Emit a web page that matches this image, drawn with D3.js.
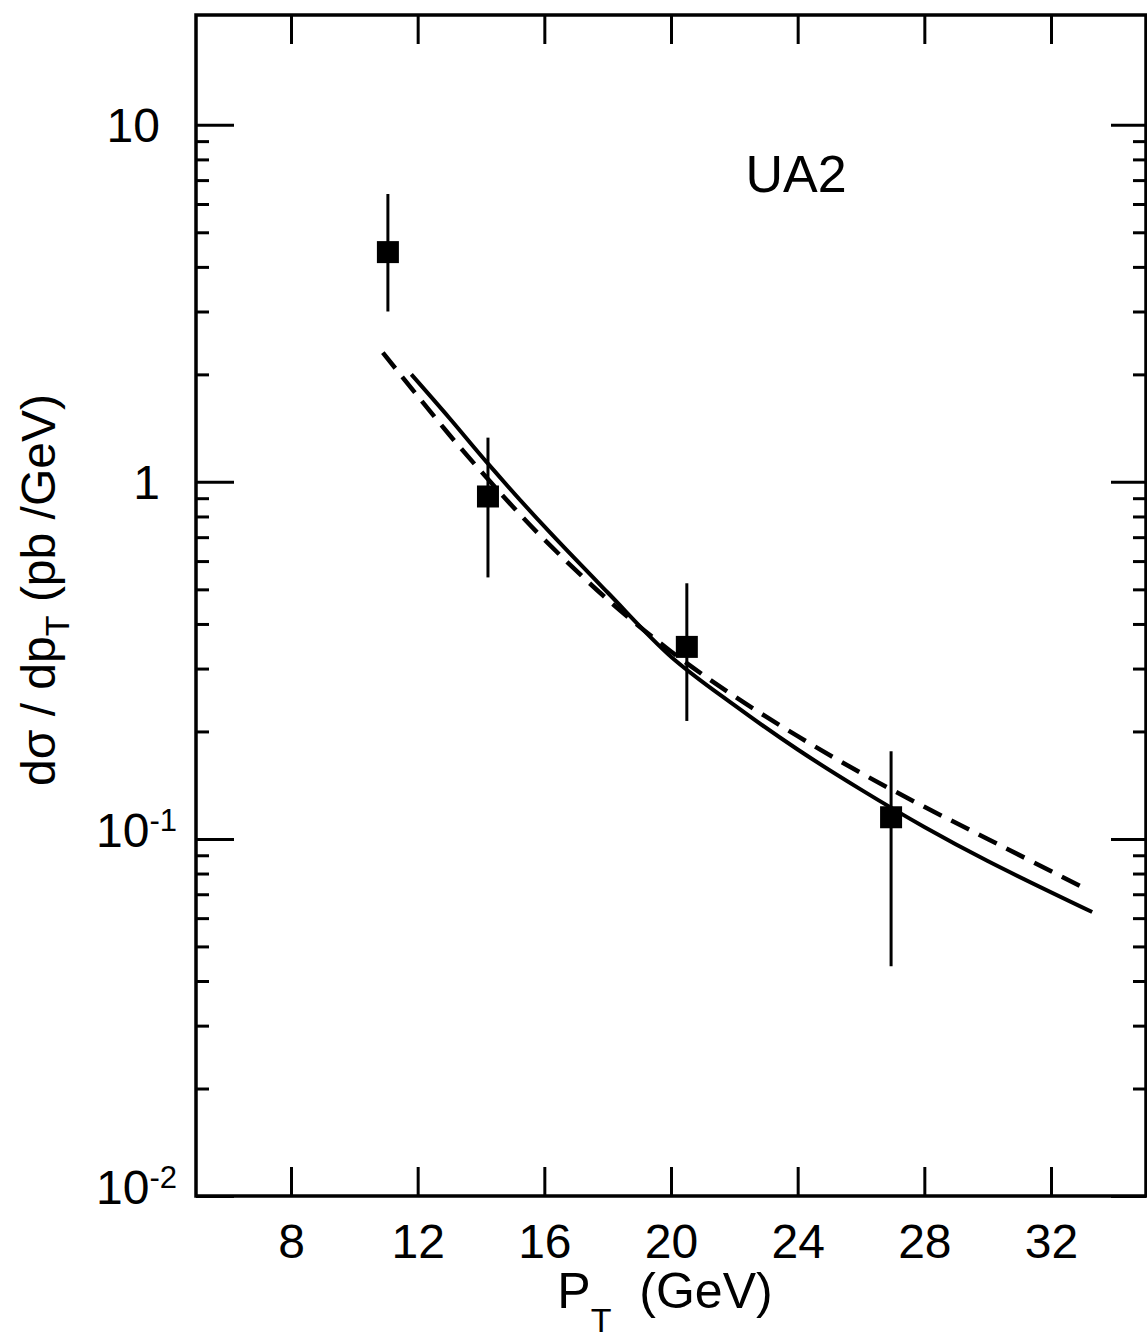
<!DOCTYPE html>
<html>
<head>
<meta charset="utf-8">
<script src="https://cdn.jsdelivr.net/npm/d3@7"></script>
<style>
	html, body { margin: 0; padding: 0; background: #fff; }
	svg { display: block; }
	text { font-family: "Liberation Sans", Arial, Helvetica, sans-serif; fill: #000; }
</style>
</head>
<body>
<script>
// measured points (UA2)
const ptData = [11.06, 14.22, 20.5, 26.95];
const sigmaData = [4.4, 0.91, 0.345, 0.115];
const errHigh = [6.4, 1.33, 0.52, 0.176];
const errLow = [3.0, 0.54, 0.214, 0.044];

// theory curves
const solidPt = [11.8, 13.0, 14.2, 16.0, 18.0, 20.0, 22.0, 24.0, 26.0, 28.0, 30.0, 33.3];
const solidSigma = [2.0, 1.51, 1.13, 0.75, 0.49, 0.324, 0.237, 0.178, 0.1374, 0.108, 0.0867, 0.0624];
const dashPt = [10.9, 12.0, 13.0, 14.0, 15.0, 16.0, 18.0, 20.0, 22.0, 24.0, 26.0, 28.0, 30.0, 33.1];
const dashSigma = [2.30, 1.74, 1.355, 1.07, 0.853, 0.689, 0.468, 0.335, 0.251, 0.194, 0.153, 0.123, 0.1, 0.0724];

// axis ticks
const xTicks = [8, 12, 16, 20, 24, 28, 32];
const yMajor = [10, 1, 0.1, 0.01];
const yMajorLabels = [["10", ""], ["1", ""], ["10", "-1"], ["10", "-2"]];
const yMinor = [];
[0.01, 0.1, 1, 10].forEach(d => { for (let m = 2; m <= 9; m++) if (d * m < 20) yMinor.push(d * m); });

const width = 1147, height = 1338;
const plot = { left: 196, right: 1146, top: 15, bottom: 1196 };

const svg = d3.select('body').append('svg')
	.attr('width', width)
	.attr('height', height);

const x = d3.scaleLinear().domain([5, 35]).range([plot.left, plot.right]);
const y = d3.scaleLog().domain([0.01, 20.3]).range([plot.bottom, plot.top]);

function styleAxis(g) {
	g.select('.domain').remove();
	g.selectAll('.tick line').attr('stroke', '#000').attr('stroke-width', 3);
}

// axes (ticks inward)
svg.append('g')
	.attr('transform', `translate(0,${plot.bottom})`)
	.call(d3.axisBottom(x).tickValues(xTicks).tickSize(-29).tickPadding(28).tickFormat(d => d))
	.call(styleAxis)
	.call(g => g.selectAll('text').attr('font-size', 48).attr('font-family', null));

svg.append('g')
	.attr('transform', `translate(0,${plot.top})`)
	.call(d3.axisTop(x).tickValues(xTicks).tickSize(-29).tickFormat(''))
	.call(styleAxis);

svg.append('g')
	.attr('transform', `translate(${plot.left},0)`)
	.call(d3.axisLeft(y).tickValues(yMajor).tickSize(-38).tickFormat(''))
	.call(styleAxis);

svg.append('g')
	.attr('transform', `translate(${plot.left},0)`)
	.call(d3.axisLeft(y).tickValues(yMinor).tickSize(-13).tickFormat(''))
	.call(styleAxis);

svg.append('g')
	.attr('transform', `translate(${plot.right},0)`)
	.call(d3.axisRight(y).tickValues(yMajor).tickSize(-35).tickFormat(''))
	.call(styleAxis);

svg.append('g')
	.attr('transform', `translate(${plot.right},0)`)
	.call(d3.axisRight(y).tickValues(yMinor).tickSize(-13).tickFormat(''))
	.call(styleAxis);

// frame
svg.append('rect')
	.attr('x', plot.left).attr('y', plot.top)
	.attr('width', plot.right - plot.left).attr('height', plot.bottom - plot.top)
	.attr('fill', 'none').attr('stroke', '#000').attr('stroke-width', 3.5);

// y labels
yMajor.forEach((v, i) => {
	const [base, sup] = yMajorLabels[i];
	const t = svg.append('text')
		.attr('font-size', 48)
		.attr('text-anchor', 'end')
		.attr('x', sup ? 177 : 160)
		.attr('y', y(v) + (sup ? 8 : 17));
	t.append('tspan').text(base);
	if (sup) t.append('tspan').attr('font-size', 31).attr('dy', -16).text(sup);
});

// curves
const line = d3.line().x(d => x(d[0])).y(d => y(d[1])).curve(d3.curveCatmullRom);

svg.append('path')
	.datum(solidPt.map((p, i) => [p, solidSigma[i]]))
	.attr('d', line)
	.attr('fill', 'none').attr('stroke', '#000').attr('stroke-width', 4);

svg.append('path')
	.datum(dashPt.map((p, i) => [p, dashSigma[i]]))
	.attr('d', line)
	.attr('fill', 'none').attr('stroke', '#000').attr('stroke-width', 4.5)
	.attr('stroke-dasharray', '20,11');

// data points
const pts = ptData.map((p, i) => ({ p, s: sigmaData[i], hi: errHigh[i], lo: errLow[i] }));

svg.selectAll('.err').data(pts).join('line')
	.attr('class', 'err')
	.attr('x1', d => x(d.p)).attr('x2', d => x(d.p))
	.attr('y1', d => y(d.hi)).attr('y2', d => y(d.lo))
	.attr('stroke', '#000').attr('stroke-width', 3);

svg.selectAll('.pt').data(pts).join('rect')
	.attr('class', 'pt')
	.attr('x', d => x(d.p) - 11).attr('y', d => y(d.s) - 11)
	.attr('width', 22).attr('height', 22)
	.attr('fill', '#000');

// labels
svg.append('text')
	.attr('x', 796).attr('y', 192)
	.attr('text-anchor', 'middle')
	.attr('font-size', 52)
	.text('UA2');

const xl = svg.append('text')
	.attr('x', 665).attr('y', 1308)
	.attr('text-anchor', 'middle')
	.attr('font-size', 50);
xl.append('tspan').text('P');
xl.append('tspan').attr('font-size', 34).attr('dy', 24).text('T');
xl.append('tspan').attr('dy', -24).text('\u00a0 (GeV)');

const yl = svg.append('text')
	.attr('transform', 'translate(55,590) rotate(-90)')
	.attr('text-anchor', 'middle')
	.attr('font-size', 48);
yl.append('tspan').text('d\u03c3 / dp');
yl.append('tspan').attr('font-size', 34).attr('dy', 14).text('T');
yl.append('tspan').attr('dy', -14).text(' (pb /GeV)');
</script>
</body>
</html>
